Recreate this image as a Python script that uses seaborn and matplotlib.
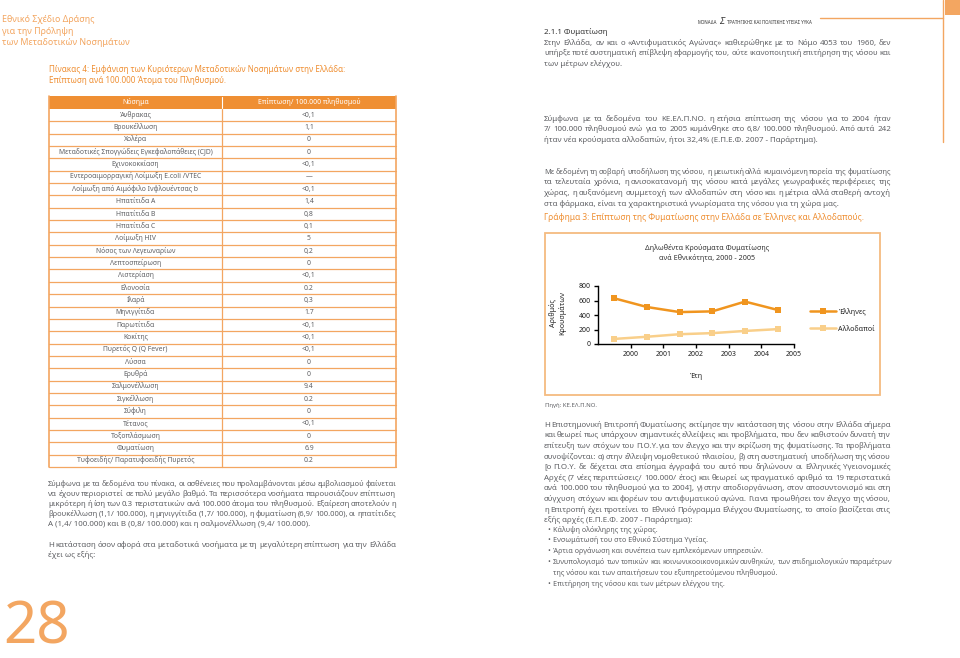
import math
import numpy as np
import pandas as pd
import matplotlib
matplotlib.use('Agg')
import matplotlib.pyplot as plt
import seaborn as sns

sns.set_theme(style='white')
plt.rcParams['font.family'] = ['Noto Sans', 'DejaVu Sans']

ORANGE = '#ef8f33'
LIGHT_OR = '#f3a661'
GREY = '#5f6064'

# chart data
years = [2000, 2001, 2002, 2003, 2004, 2005]
greeks = [630, 510, 440, 450, 585, 470]
foreigners = [70, 100, 135, 150, 180, 205]
groups = ['Έλληνες', 'Αλλοδαποί']

# table data
diseases = ['Άνθρακας', 'Βρουκέλλωση', 'Χολέρα',
            'Μεταδοτικές Σπογγώδεις Εγκεφαλοπάθειες (CJD)', 'Εχινοκοκκίαση',
            'Εντεροαιμορραγική Λοίμωξη E.coli /VTEC',
            'Λοίμωξη από Αιμόφιλο Ινφλουέντσας b', 'Ηπατίτιδα Α', 'Ηπατίτιδα Β',
            'Ηπατίτιδα C', 'Λοίμωξη HIV', 'Νόσος των Λεγεωναρίων', 'Λεπτοσπείρωση',
            'Λιστερίαση', 'Ελονοσία', 'Ιλαρά', 'Μηνιγγίτιδα', 'Παρωτίτιδα', 'Κοκίτης',
            'Πυρετός Q (Q Fever)', 'Λύσσα', 'Ερυθρά', 'Σαλμονέλλωση', 'Σιγκέλλωση',
            'Σύφιλη', 'Τέτανος', 'Τοξοπλάσμωση', 'Φυματίωση',
            'Τυφοειδής/ Παρατυφοειδής Πυρετός']
rates = ['<0,1', '1,1', '0', '0', '<0,1', '—', '<0,1', '1,4', '0,8', '0,1', '5',
         '0,2', '0', '<0,1', '0.2', '0,3', '1.7', '<0,1', '<0,1', '<0,1', '0', '0',
         '9.4', '0.2', '0', '<0,1', '0', '6.9', '0.2']
table_header = ['Νόσημα', 'Επίπτωση/ 100.000 πληθυσμού']

# page text
left_par1 = [
    'Σύμφωνα με τα δεδομένα του πίνακα, οι ασθένειες που προλαμβάνονται μέσω εμβολιασμού φαίνεται',
    'να έχουν περιοριστεί σε πολύ μεγάλο βαθμό. Τα περισσότερα νοσήματα παρουσιάζουν επίπτωση',
    'μικρότερη ή ίση των 0.3 περιστατικών ανά 100.000 άτομα του πληθυσμού. Εξαίρεση αποτελούν η',
    'βρουκέλλωση (1,1/ 100.000), η μηνιγγίτιδα (1,7/ 100.000), η φυματίωση (6,9/ 100.000), οι ηπατίτιδες',
    'Α (1,4/ 100.000) και Β (0,8/ 100.000) και η σαλμονέλλωση (9,4/ 100.000).']
left_par2 = [
    'Η κατάσταση όσον αφορά στα μεταδοτικά νοσήματα με τη μεγαλύτερη επίπτωση για την Ελλάδα',
    'έχει ως εξής:']
right_par1 = [
    'Στην Ελλάδα, αν και ο «Αντιφυματικός Αγώνας» καθιερώθηκε με το Νόμο 4053 του 1960, δεν',
    'υπήρξε ποτέ συστηματική επίβλεψη εφαρμογής του, ούτε ικανοποιητική επιτήρηση της νόσου και',
    'των μέτρων ελέγχου.']
right_par2 = [
    'Σύμφωνα με τα δεδομένα του ΚΕ.ΕΛ.Π.ΝΟ. η ετήσια επίπτωση της νόσου για το 2004 ήταν',
    '7/ 100.000 πληθυσμού ενώ για το 2005 κυμάνθηκε στο 6,8/ 100.000 πληθυσμού. Από αυτά 242',
    'ήταν νέα κρούσματα αλλοδαπών, ήτοι 32,4% (Ε.Π.Ε.Φ. 2007 - Παράρτημα).']
right_par3 = [
    'Με δεδομένη τη σοβαρή υποδήλωση της νόσου, η μειωτική αλλά κυμαινόμενη πορεία της φυματίωσης',
    'τα τελευταία χρόνια, η ανισοκατανομή της νόσου κατά μεγάλες γεωγραφικές περιφέρειες της',
    'χώρας, η αυξανόμενη συμμετοχή των αλλοδαπών στη νόσο και η μέτρια αλλά σταθερή αντοχή',
    'στα φάρμακα, είναι τα χαρακτηριστικά γνωρίσματα της νόσου για τη χώρα μας.']
right_par4 = [
    'Η Επιστημονική Επιτροπή Φυματίωσης εκτίμησε την κατάσταση της νόσου στην Ελλάδα σήμερα',
    'και θεωρεί πως υπάρχουν σημαντικές ελλείψεις και προβλήματα, που δεν καθιστούν δυνατή την',
    'επίτευξη των στόχων του Π.Ο.Υ. για τον έλεγχο και την εκρίζωση της φυματίωσης. Τα προβλήματα',
    'συνοψίζονται: α) στην έλλειψη νομοθετικού πλαισίου, β) στη συστηματική υποδήλωση της νόσου',
    '[ο Π.Ο.Υ. δε δέχεται στα επίσημα έγγραφά του αυτό που δηλώνουν οι Ελληνικές Υγειονομικές',
    'Αρχές (7 νέες περιπτώσεις/ 100.000/ έτος) και θεωρεί ως πραγματικό αριθμό τα 19 περιστατικά',
    'ανά 100.000 του πληθυσμού για το 2004], γ) στην αποδιοργάνωση, στον αποσυντονισμό και στη',
    'σύγχυση στόχων και φορέων του αντιφυματικού αγώνα. Για να προωθήσει τον έλεγχο της νόσου,',
    'η Επιτροπή έχει προτείνει το Εθνικό Πρόγραμμα Ελέγχου Φυματίωσης, το οποίο βασίζεται στις',
    'εξής αρχές (Ε.Π.Ε.Φ. 2007 - Παράρτημα):']
bullets = [
    ['Κάλυψη ολόκληρης της χώρας.'],
    ['Ενσωμάτωσή του στο Εθνικό Σύστημα Υγείας.'],
    ['Άρτια οργάνωση και συνέπεια των εμπλεκόμενων υπηρεσιών.'],
    ['Συνυπολογισμό των τοπικών και κοινωνικοοικονομικών συνθηκών, των επιδημιολογικών παραμέτρων',
     'της νόσου και των απαιτήσεων του εξυπηρετούμενου πληθυσμού.'],
    ['Επιτήρηση της νόσου και των μέτρων ελέγχου της.']]

fig = plt.figure(figsize=(9.6, 6.58), dpi=100)
bg = fig.add_axes([0, 0, 1, 1])
bg.set_xlim(0, 960)
bg.set_ylim(658, 0)
bg.axis('off')
renderer = fig.canvas.get_renderer()


def snap_baseline(t, base):
    # keep words of one line on the same pixel row (Agg rounds each bitmap on its own)
    _, h, d = renderer.get_text_width_height_descent(t.get_text(), t.get_fontproperties(), ismath=False)
    t.set_y(base + math.floor(h) - math.floor(h - d) - d)


def justify_line(x0, x1, y, line, size, color):
    words = line.split()
    ts = [bg.text(x0, y, w, fontsize=size, color=color, va='baseline') for w in words]
    ws = [t.get_window_extent(renderer=renderer).width for t in ts]
    target = x1 - x0
    min_gap = 1.4
    if sum(ws) + min_gap * (len(ws) - 1) > target:
        # too long: shrink this line a little
        k = (target - min_gap * (len(ws) - 1)) / sum(ws)
        for t in ts:
            t.set_fontsize(size * k)
        ws = [t.get_window_extent(renderer=renderer).width for t in ts]
    gap = (target - sum(ws)) / (len(ws) - 1)
    x = x0
    base = round(y)
    for t, w in zip(ts, ws):
        t.set_x(x)
        snap_baseline(t, base)
        x += w + gap


def paragraph(x0, x1, y0, step, lines, size=5.7, color=GREY):
    # justified lines, last one left aligned; y values are line mid-heights
    for i, line in enumerate(lines):
        y = y0 + i * step + 0.3 * size
        if i == len(lines) - 1:
            bg.text(x0, y, line, fontsize=size, color=color, va='baseline')
        else:
            justify_line(x0, x1, y, line, size, color)


# page header
bg.text(2, 31, 'Εθνικό Σχέδιο Δράσης\nγια την Πρόληψη\nτων Μεταδοτικών Νοσημάτων',
        fontsize=6.4, color=LIGHT_OR, va='center', linespacing=1.3)
bg.text(717, 23, 'ΜΟΝΑΔΑ', fontsize=3.2, fontweight='bold', color='#333333', ha='right', va='center')
bg.text(719, 22, 'Σ', fontsize=7, color='#333333', va='center', style='italic')
bg.text(727, 23, 'ΤΡΑΤΗΓΙΚΗΣ ΚΑΙ ΠΟΛΙΤΙΚΗΣ ΥΓΕΙΑΣ ΥΥΚΑ', fontsize=3.2, fontweight='bold',
        color='#333333', va='center')
bg.plot([820, 943], [18, 18], color=LIGHT_OR, lw=1)
bg.plot([943, 943], [0, 142], color=LIGHT_OR, lw=1)
bg.add_patch(plt.Rectangle((945, 0), 15, 15, color=LIGHT_OR, lw=0))
bg.text(3, 657, '28', fontsize=42, color=LIGHT_OR, fontweight='light', va='bottom')

# table
bg.text(49, 75, 'Πίνακας 4: Εμφάνιση των Κυριότερων Μεταδοτικών Νοσημάτων στην Ελλάδα:\n'
        'Επίπτωση ανά 100.000 Άτομα του Πληθυσμού.',
        fontsize=5.8, fontweight='bold', color=ORANGE, va='center', linespacing=1.3)
tx0, tx1, tx2 = 49, 222, 396
head_top, head_bot, tab_bot = 96, 109, 467
row_h = (tab_bot - head_bot) / len(diseases)
bg.add_patch(plt.Rectangle((tx0, head_top), tx2 - tx0, head_bot - head_top, color=ORANGE, lw=0))
bg.plot([tx1, tx1], [head_top + 1, head_bot - 1], color='white', lw=0.8)
bg.text((tx0 + tx1) / 2, (head_top + head_bot) / 2, table_header[0], fontsize=5, color='white',
        ha='center', va='center')
bg.text((tx1 + tx2) / 2, (head_top + head_bot) / 2, table_header[1], fontsize=5, color='white',
        ha='center', va='center')
for i, (d, r) in enumerate(zip(diseases, rates)):
    yb = head_bot + (i + 0.5) * row_h + 1.6
    bg.text((tx0 + tx1) / 2, yb, d, fontsize=4.9, color=GREY, ha='center', va='baseline')
    bg.text((tx1 + tx2) / 2, yb, r, fontsize=4.9, color=GREY, ha='center', va='baseline')
    bg.plot([tx0, tx2], [head_bot + (i + 1) * row_h] * 2, color=LIGHT_OR, lw=0.9)
bg.plot([tx0, tx0], [head_top, tab_bot], color=LIGHT_OR, lw=1.2)
bg.plot([tx2, tx2], [head_top, tab_bot], color=LIGHT_OR, lw=1.2)
bg.plot([tx1, tx1], [head_bot, tab_bot], color=LIGHT_OR, lw=0.9)

paragraph(48, 396, 484, 10.1, left_par1)
paragraph(48, 396, 545, 10.1, left_par2)

# right column
bg.text(544, 32, '2.1.1 Φυματίωση', fontsize=5.7, fontweight='bold', color='#333333', va='center')
paragraph(544, 891, 43, 10.5, right_par1)
paragraph(544, 891, 119, 10.7, right_par2)
paragraph(544, 891, 172, 10.7, right_par3)
bg.text(544, 217, 'Γράφημα 3: Επίπτωση της Φυματίωσης στην Ελλάδα σε Έλληνες και Αλλοδαπούς.',
        fontsize=6, fontweight='bold', color=ORANGE, va='center')

# chart frame and title
bg.add_patch(plt.Rectangle((545, 233), 335, 162, fill=False, edgecolor='#f5bb80', lw=1.3))
bg.text(707, 253, 'Δηλωθέντα Κρούσματα Φυματίωσης\nανά Εθνικότητα, 2000 - 2005',
        fontsize=5.2, fontweight='bold', color='#333333', ha='center', va='center', linespacing=1.35)

df = pd.DataFrame({
    'Έτος': years * 2,
    'Κρούσματα': greeks + foreigners,
    'Εθνικότητα': [groups[0]] * len(years) + [groups[1]] * len(years),
})

ax = fig.add_axes([598 / 960, 1 - 344 / 658, 196 / 960, 58 / 658])
sns.lineplot(data=df, x='Έτος', y='Κρούσματα', hue='Εθνικότητα', hue_order=groups,
             palette={groups[0]: '#f0951f', groups[1]: '#f9cf8a'},
             marker='s', markersize=4, markeredgewidth=0, linewidth=1.8, ax=ax)
ax.set_xlim(years[0] - 0.5, years[-1] + 0.5)
ax.set_xticks([y + 0.5 for y in years])
ax.set_xticklabels(years)
ax.set_ylim(0, 800)
ax.set_yticks(range(0, 801, 200))
ax.patch.set_alpha(0)
for s in ['top', 'right']:
    ax.spines[s].set_visible(False)
for s in ['left', 'bottom']:
    ax.spines[s].set_color('black')
    ax.spines[s].set_linewidth(1)
ax.tick_params(axis='both', direction='out', length=3, width=1, color='black',
               labelsize=5, pad=2, left=True, bottom=True)
for lab in ax.get_xticklabels() + ax.get_yticklabels():
    lab.set_fontweight('bold')
    lab.set_color('#222222')
ax.set_xlabel('Έτη', fontsize=5.2, fontweight='bold', color='#222222')
ax.xaxis.set_label_coords(0.5, -0.5)
ax.set_ylabel('Αριθμός\nΚρουσμάτων', fontsize=5.2, fontweight='bold', color='#222222')
ax.yaxis.set_label_coords(-0.16, 0.53)
sns.move_legend(ax, 'center left', bbox_to_anchor=(1.05, 0.41), title=None, frameon=False,
                fontsize=5.2, handlelength=3.6, handletextpad=0.3, labelspacing=1.4)
for t in ax.get_legend().get_texts():
    t.set_fontweight('bold')
    t.set_color('#222222')

bg.text(545, 405, 'Πηγή: ΚΕ.ΕΛ.Π.ΝΟ.', fontsize=4.3, color=GREY, va='center')
paragraph(544, 891, 425, 10.6, right_par4)
yc = 530
for b in bullets:
    bg.text(547, yc + 1.6, '•', fontsize=5.3, color=GREY, va='baseline')
    for k, ln in enumerate(b):
        y = yc + k * 10.8 + 1.6
        if k < len(b) - 1:
            justify_line(553, 893, y, ln, 5.2, GREY)
        else:
            bg.text(553, y, ln, fontsize=5.2, color=GREY, va='baseline')
    yc += 10.8 * len(b)

fig.savefig('out.png', dpi=100)
